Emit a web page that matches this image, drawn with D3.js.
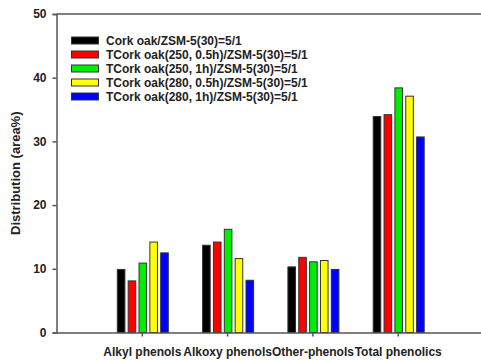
<!DOCTYPE html>
<html><head><meta charset="utf-8">
<script src="https://cdn.jsdelivr.net/npm/d3@7"></script>
<style>body{margin:0;background:#fff}svg{display:block}</style>
</head><body><svg id="c" width="481" height="361"></svg>
<script>
const categories = ["Alkyl phenols","Alkoxy phenols","Other-phenols","Total phenolics"];
const seriesNames = ["Cork oak/ZSM-5(30)=5/1","TCork oak(250, 0.5h)/ZSM-5(30)=5/1","TCork oak(250, 1h)/ZSM-5(30)=5/1","TCork oak(280, 0.5h)/ZSM-5(30)=5/1","TCork oak(280, 1h)/ZSM-5(30)=5/1"];
const colors = ["#000000","#ff0000","#00ee00","#ffff00","#0000ff"];
const s1 = [9.9, 13.7, 10.3, 33.9];
const s2 = [8.1, 14.2, 11.8, 34.2];
const s3 = [10.9, 16.2, 11.1, 38.4];
const s4 = [14.2, 11.6, 11.3, 37.1];
const s5 = [12.5, 8.2, 9.9, 30.7];
const series = [s1,s2,s3,s4,s5];
const yTicks = [0,10,20,30,40,50];

const svg = d3.select("#c");
const x0 = 56.5, x1 = 483, yTop = 14, yBot = 332.5;
const x = d3.scaleLinear().domain([0,5]).range([x0,x1]);
const y = d3.scaleLinear().domain([0,50]).range([yBot,yTop]);
const off = d3.scaleBand().domain(d3.range(5)).range([-24.5,26.5]).paddingInner(0.3).paddingOuter(0);

const font = "Arial, 'Liberation Sans', sans-serif";

// bars
categories.forEach((c,i)=>{
  series.forEach((s,j)=>{
    const cx = x(i+1);
    svg.append("rect")
      .attr("x", cx + off(j))
      .attr("width", off.bandwidth())
      .attr("y", y(s[i]))
      .attr("height", y(0)-y(s[i]))
      .attr("fill", colors[j])
      .attr("stroke", "#333")
      .attr("stroke-width", 1);
  });
});

// y axis
const yAxis = d3.axisLeft(y).tickValues(yTicks).tickSize(4).tickPadding(6);
const gy = svg.append("g").attr("transform",`translate(${x0},0)`).call(yAxis);
gy.select(".domain").attr("stroke","#555").attr("stroke-width",1.5);
gy.selectAll(".tick line").attr("stroke","#555").attr("stroke-width",1.5);
gy.selectAll("text").attr("font-family",font).attr("font-weight","bold").attr("font-size",12).attr("fill","#222");

// x axis
const xAxis = d3.axisBottom(x).tickValues([1,2,3,4]).tickFormat(d=>categories[d-1]).tickSize(4).tickPadding(11).tickSizeOuter(0);
const gx = svg.append("g").attr("transform",`translate(0,${yBot})`).call(xAxis);
gx.select(".domain").attr("stroke","#555").attr("stroke-width",1.5);
gx.selectAll(".tick line").attr("stroke","#555").attr("stroke-width",1.5);
gx.selectAll("text").attr("font-family",font).attr("font-weight","bold").attr("font-size",12).attr("fill","#222");

// top frame line
svg.append("line").attr("x1",x0).attr("x2",481).attr("y1",yTop).attr("y2",yTop).attr("stroke","#555").attr("stroke-width",1.5);

// y title
svg.append("text").attr("transform",`translate(20,${(yTop+yBot)/2}) rotate(-90)`)
  .attr("text-anchor","middle").attr("font-family",font).attr("font-weight","bold").attr("font-size",13).attr("fill","#222")
  .text("Distribution (area%)");

// legend
const lg = svg.append("g");
seriesNames.forEach((n,j)=>{
  const ly = 40.5 + j*14;
  lg.append("rect").attr("x",71.5).attr("y",ly-3.5).attr("width",27).attr("height",7)
    .attr("fill",colors[j]).attr("stroke","#333").attr("stroke-width",1);
  lg.append("text").attr("x",106).attr("y",ly+4.5).attr("font-family",font).attr("font-weight","bold")
    .attr("font-size",12).attr("fill","#222").text(n);
});
</script></body></html>
